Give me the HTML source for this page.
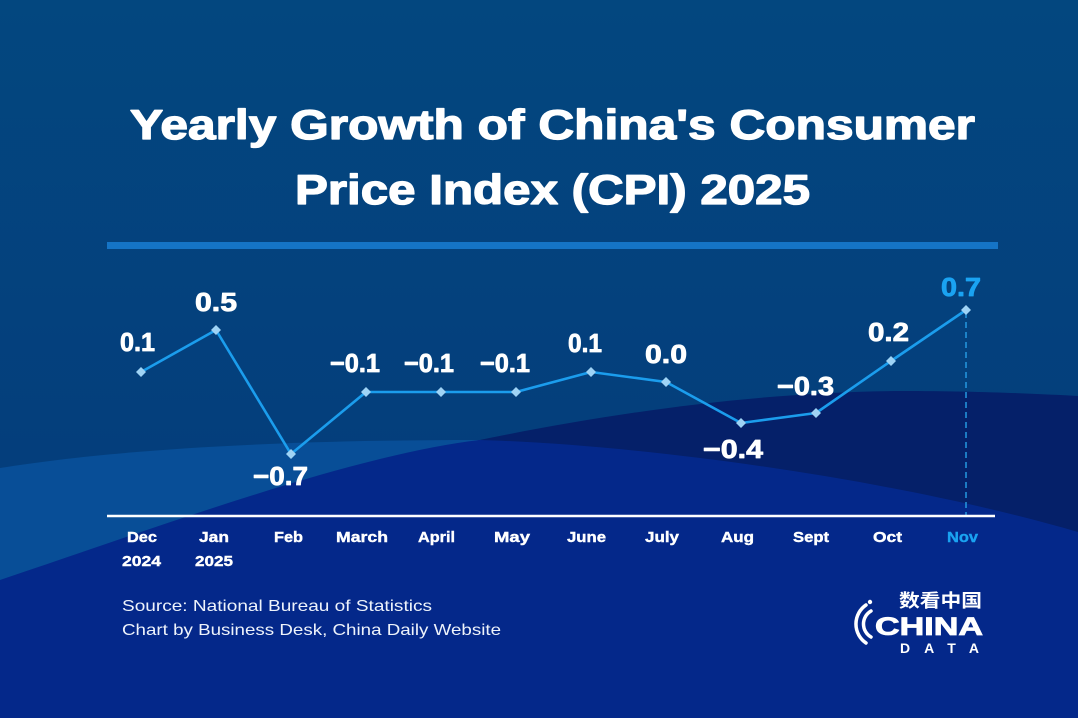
<!DOCTYPE html>
<html>
<head>
<meta charset="utf-8">
<style>
  html,body{margin:0;padding:0;background:#03467f;}
  svg{display:block;}
  text{font-family:"Liberation Sans","Noto Sans CJK SC",sans-serif;}
</style>
</head>
<body>
<svg width="1078" height="718" viewBox="0 0 1078 718" xmlns="http://www.w3.org/2000/svg">
  <defs>
    <linearGradient id="bg" x1="0" y1="0" x2="0" y2="1" gradientUnits="objectBoundingBox">
      <stop offset="0" stop-color="#03477f"/>
      <stop offset="0.65" stop-color="#043e7c"/>
      <stop offset="1" stop-color="#043e7c"/>
    </linearGradient>
  </defs>
  <rect x="0" y="0" width="1078" height="718" fill="url(#bg)"/>
  <!-- light band -->
  <path d="M0,468 C100,452 250,440 480,440 L480,718 L0,718 Z" fill="#084e97"/>
  <!-- dark navy -->
  <path d="M470,442 C600,415 750,392 900,391 C980,391 1040,394 1078,396 L1078,718 L470,718 Z" fill="#052069"/>
  <!-- royal dome -->
  <path d="M0,580 C150,530 350,455 480,440 C650,445 900,480 1078,532 L1078,718 L0,718 Z" fill="#04288a"/>

  <!-- Title -->
  <g fill="#ffffff" stroke="#ffffff" stroke-width="1.3" stroke-linejoin="round">
    <text x="130" y="139" font-size="42" font-weight="bold" textLength="845" lengthAdjust="spacingAndGlyphs">Yearly Growth of China's Consumer</text>
    <text x="295" y="204" font-size="42" font-weight="bold" textLength="515" lengthAdjust="spacingAndGlyphs">Price Index (CPI) 2025</text>
  </g>
  <rect x="107" y="242" width="891" height="7" fill="#1574c6"/>

  <!-- dashed line to Nov -->
  <line x1="966" y1="312" x2="966" y2="515" stroke="#2597e0" stroke-width="1.5" stroke-dasharray="6 4"/>

  <!-- axis -->
  <line x1="107" y1="516" x2="995" y2="516" stroke="#ffffff" stroke-width="2.5"/>

  <!-- series -->
  <polyline fill="none" stroke="#1b9ded" stroke-width="2.6" stroke-linejoin="round"
    points="141,372 216,330 291,454 366,392 441,392 516,392 591,372 666,382 741,423 816,413 891,361 966,310"/>
  <g fill="#9fd3f5">
    <path d="M141,367 L146,372 L141,377 L136,372 Z"/>
    <path d="M216,325 L221,330 L216,335 L211,330 Z"/>
    <path d="M291,449 L296,454 L291,459 L286,454 Z"/>
    <path d="M366,387 L371,392 L366,397 L361,392 Z"/>
    <path d="M441,387 L446,392 L441,397 L436,392 Z"/>
    <path d="M516,387 L521,392 L516,397 L511,392 Z"/>
    <path d="M591,367 L596,372 L591,377 L586,372 Z"/>
    <path d="M666,377 L671,382 L666,387 L661,382 Z"/>
    <path d="M741,418 L746,423 L741,428 L736,423 Z"/>
    <path d="M816,408 L821,413 L816,418 L811,413 Z"/>
    <path d="M891,356 L896,361 L891,366 L886,361 Z"/>
    <path d="M966,305 L971,310 L966,315 L961,310 Z"/>
  </g>

  <!-- value labels -->
  <g font-size="26" font-weight="bold" fill="#ffffff" stroke="#ffffff" stroke-width="0.8" stroke-linejoin="round">
    <text x="120" y="351" textLength="35" lengthAdjust="spacingAndGlyphs">0.1</text>
    <text x="195" y="311" textLength="42" lengthAdjust="spacingAndGlyphs">0.5</text>
    <text x="253" y="485" textLength="55" lengthAdjust="spacingAndGlyphs">−0.7</text>
    <text x="330" y="372" textLength="50" lengthAdjust="spacingAndGlyphs">−0.1</text>
    <text x="404" y="372" textLength="50" lengthAdjust="spacingAndGlyphs">−0.1</text>
    <text x="480" y="372" textLength="50" lengthAdjust="spacingAndGlyphs">−0.1</text>
    <text x="568" y="352" textLength="34" lengthAdjust="spacingAndGlyphs">0.1</text>
    <text x="645" y="363" textLength="42" lengthAdjust="spacingAndGlyphs">0.0</text>
    <text x="703" y="458" textLength="60" lengthAdjust="spacingAndGlyphs">−0.4</text>
    <text x="777" y="395" textLength="57" lengthAdjust="spacingAndGlyphs">−0.3</text>
    <text x="868" y="341" textLength="41" lengthAdjust="spacingAndGlyphs">0.2</text>
    <text x="941" y="296" textLength="40" lengthAdjust="spacingAndGlyphs" fill="#1aa3f2" stroke="#1aa3f2">0.7</text>
  </g>

  <!-- x labels -->
  <g font-size="15" font-weight="bold" fill="#ffffff" stroke="#ffffff" stroke-width="0.4">
    <text x="127" y="542" textLength="30" lengthAdjust="spacingAndGlyphs">Dec</text>
    <text x="199" y="542" textLength="30" lengthAdjust="spacingAndGlyphs">Jan</text>
    <text x="274" y="542" textLength="29" lengthAdjust="spacingAndGlyphs">Feb</text>
    <text x="336" y="542" textLength="52" lengthAdjust="spacingAndGlyphs">March</text>
    <text x="418" y="542" textLength="37" lengthAdjust="spacingAndGlyphs">April</text>
    <text x="494" y="542" textLength="36" lengthAdjust="spacingAndGlyphs">May</text>
    <text x="567" y="542" textLength="39" lengthAdjust="spacingAndGlyphs">June</text>
    <text x="645" y="542" textLength="34" lengthAdjust="spacingAndGlyphs">July</text>
    <text x="721" y="542" textLength="33" lengthAdjust="spacingAndGlyphs">Aug</text>
    <text x="793" y="542" textLength="36" lengthAdjust="spacingAndGlyphs">Sept</text>
    <text x="873" y="542" textLength="29" lengthAdjust="spacingAndGlyphs">Oct</text>
    <text x="947" y="542" textLength="31" lengthAdjust="spacingAndGlyphs" fill="#1aa3f2" stroke="#1aa3f2">Nov</text>
    <text x="122" y="566" textLength="39" lengthAdjust="spacingAndGlyphs">2024</text>
    <text x="195" y="566" textLength="38" lengthAdjust="spacingAndGlyphs">2025</text>
  </g>

  <!-- source -->
  <g font-size="16" fill="#eef3fb">
    <text x="122" y="611" textLength="310" lengthAdjust="spacingAndGlyphs">Source: National Bureau of Statistics</text>
    <text x="122" y="635" textLength="379" lengthAdjust="spacingAndGlyphs">Chart by Business Desk, China Daily Website</text>
  </g>

  <!-- logo -->
  <g fill="#ffffff">
    <text x="899" y="607" font-size="18" font-weight="bold" textLength="83" lengthAdjust="spacingAndGlyphs" font-family="'Noto Sans CJK SC','WenQuanYi Zen Hei',sans-serif">数看中国</text>
    <text x="875" y="635" font-size="25" font-weight="bold" stroke="#ffffff" stroke-width="0.8" textLength="108" lengthAdjust="spacingAndGlyphs">CHINA</text>
    <text x="900" y="653" font-size="14" font-weight="bold" textLength="79" lengthAdjust="spacing">DATA</text>
  </g>
  <g fill="none" stroke="#ffffff" stroke-width="3.5" stroke-linecap="round">
    <path d="M866,605 A23,23 0 0 0 866,643"/>
    <path d="M871,611 A15,15 0 0 0 871,637"/>
  </g>
  <circle cx="870" cy="602" r="2.2" fill="#ffffff"/>
</svg>
</body>
</html>
